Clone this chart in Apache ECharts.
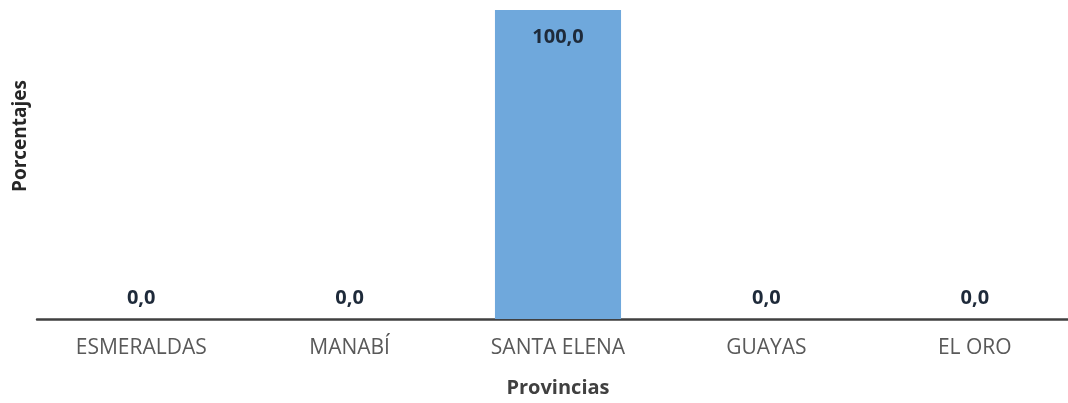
<!DOCTYPE html>
<html>
<head>
<meta charset="utf-8">
<script src="https://cdn.jsdelivr.net/npm/echarts@6/dist/echarts.min.js"></script>
<style>
  html, body { margin: 0; padding: 0; background: #ffffff; overflow: hidden; }
  /* the plot runs slightly past the right edge of the window */
  #chart { width: 1080px; height: 403px; }
</style>
</head>
<body>
<div id="chart"></div>
<script>
// Provinces and the share (%) recorded in each
const provincias = ['ESMERALDAS', 'MANABÍ', 'SANTA ELENA', 'GUAYAS', 'EL ORO'];
const porcentajes = [0.0, 0.0, 100.0, 0.0, 0.0];
const xAxisTitle = 'Provincias';
const yAxisTitle = 'Porcentajes';

const fmt = v => v.toFixed(1).replace('.', ',');
const maxVal = Math.max(...porcentajes);

const chart = echarts.init(document.getElementById('chart'), null, { renderer: 'canvas' });

chart.setOption({
  animation: false,
  backgroundColor: '#ffffff',
  grid: { left: 37, right: 1, top: 10, bottom: 79, containLabel: false },
  xAxis: {
    type: 'category',
    data: provincias,
    axisLine: { show: true, lineStyle: { color: '#404040', width: 2.5 } },
    axisTick: { show: false },
    axisLabel: {
      margin: 19,
      color: '#595959',
      fontFamily: 'Open Sans',
      fontSize: 21
    },
    name: xAxisTitle,
    nameLocation: 'middle',
    nameGap: 59,
    nameTextStyle: {
      color: '#404040',
      fontFamily: 'Open Sans',
      fontWeight: 'bold',
      fontSize: 20
    }
  },
  yAxis: {
    type: 'value',
    min: 0,
    max: 100,
    show: false
  },
  graphic: [{
    type: 'text',
    left: 11,
    top: 80,
    rotation: Math.PI / 2,
    style: {
      text: yAxisTitle,
      fill: '#262626',
      font: 'bold 19px "Open Sans"'
    }
  }],
  series: [{
    type: 'bar',
    barWidth: '60.5%',
    itemStyle: { color: '#6fa8dc' },
    data: porcentajes.map(v => ({
      value: v,
      label: {
        show: true,
        position: v === maxVal ? 'insideTop' : 'top',
        distance: v === maxVal ? 17 : 11,
        formatter: () => fmt(v),
        color: '#1e2a3a',
        fontFamily: 'Open Sans',
        fontWeight: 'bold',
        fontSize: 20
      }
    }))
  }]
});
</script>
</body>
</html>
